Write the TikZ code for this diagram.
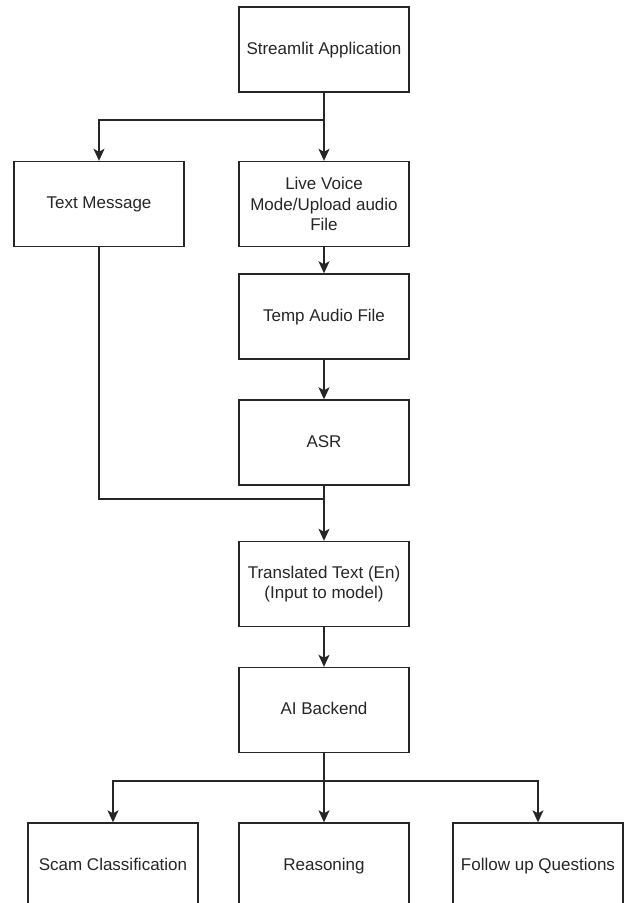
\documentclass[tikz,border=0pt]{standalone}
\usepackage{fontspec}
\setmainfont{Liberation Sans}
\usetikzlibrary{arrows.meta}
\begin{document}
\begin{tikzpicture}[x=1pt,y=-1pt,
  box/.style={draw=black!85, line width=1.4pt, minimum width=170pt, minimum height=85pt,
    inner sep=0pt, align=center, font=\fontsize{17}{20.5}\selectfont, text=black!85},
  oneline/.style={text height=12.5pt, text depth=3.5pt},
  link/.style={draw=black!85, line width=1.4pt, -{Stealth[length=12pt,width=11pt,inset=3pt]}},
  plainline/.style={draw=black!85, line width=1.4pt}]
\useasboundingbox (0,0) rectangle (624,903);
\clip (0,0) rectangle (624,903);
\fill[white] (0,0) rectangle (624,903);

\node[box,oneline] (app) at (324,49.5) {Streamlit Application};
\node[box,oneline] (txt) at (99,204) {Text Message};
\node[box] (voice) at (324,204) {Live Voice\\Mode/Upload audio\\File};
\node[box,oneline] (temp) at (324,316.5) {Temp Audio File};
\node[box,oneline] (asr) at (324,442.5) {ASR};
\node[box] (trans) at (324,584) {Translated Text (En)\\(Input to model)};
\node[box,oneline] (ai) at (324,710) {AI Backend};
\node[box,oneline] (scam) at (113,865.5) {Scam Classification};
\node[box,oneline] (reason) at (324,865.5) {Reasoning};
\node[box,oneline] (follow) at (538,865.5) {Follow up Questions};

\coordinate (b1) at (324,120);
\coordinate (m) at (324,499);
\coordinate (b2) at (324,781);

\draw[plainline] (app.south) -- (b1);
\draw[link] (b1) -| (txt.north);
\draw[link] (b1) -- (voice.north);
\draw[link] (voice.south) -- (temp.north);
\draw[link] (temp.south) -- (asr.north);
\draw[plainline] (txt.south) |- (m);
\draw[plainline] (asr.south) -- (m);
\draw[link] (m) -- (trans.north);
\draw[link] (trans.south) -- (ai.north);
\draw[plainline] (ai.south) -- (b2);
\draw[link] (b2) -| (scam.north);
\draw[link] (b2) -- (reason.north);
\draw[link] (b2) -| (follow.north);
\end{tikzpicture}
\end{document}
